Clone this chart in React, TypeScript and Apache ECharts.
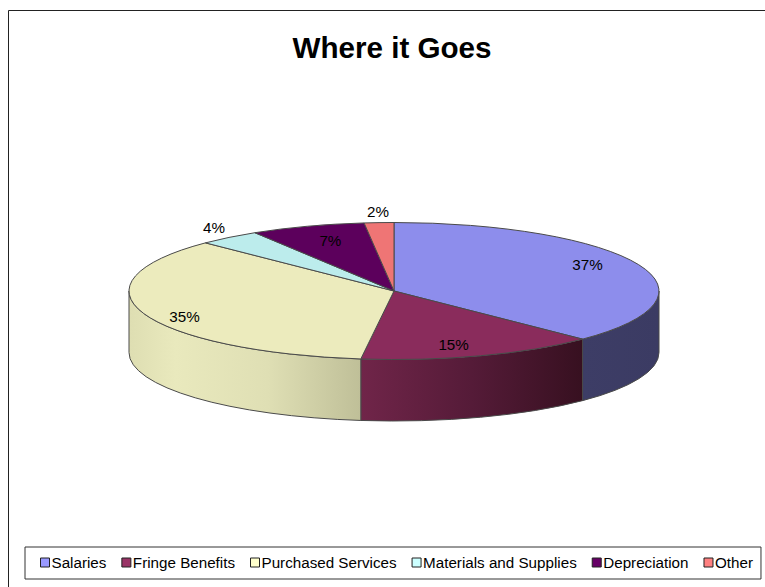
import React, { useEffect, useRef } from "react";
import * as echarts from "echarts";

const titleText = "Where it Goes";
const categories = ["Salaries", "Fringe Benefits", "Purchased Services", "Materials and Supplies", "Depreciation", "Other"];
const shares = [37.4, 14.6, 35.4, 3.8, 7.0, 1.8];

const legendColors = ["#9999ff", "#993366", "#ffffcc", "#ccffff", "#660066", "#ff8080"];
const topColors = ["#8d8dec", "#8a2c5c", "#ecebbd", "#bcecec", "#5c005c", "#ef7575"];
const wallStops: [number, string][][] = [
  [[0, "#3d3d66"], [1, "#3b3b63"]],
  [[0, "#702549"], [0.5, "#551b38"], [1, "#371020"]],
  [[0, "#dedeb2"], [0.2, "#e9e9bd"], [0.6, "#dfdfb4"], [1, "#bfbf98"]],
  [[0, "#bcecec"], [1, "#bcecec"]],
  [[0, "#5c005c"], [1, "#5c005c"]],
  [[0, "#ef7575"], [1, "#ef7575"]],
];
// Pixel nudges of each label from the rim point at its slice's middle angle.
const labelNudges = [[-51, 0], [-27, -11], [41, 3], [-15, -10], [23, 14], [-1, -11]];

const CX = 394;
const CY = 291;
const RX = 265;
const RY = 68.5;
const DEPTH = 61.5;
const EDGE = "#4a4a4a";
const FONT = "'Liberation Sans', Arial, sans-serif";

const pt = (deg: number, dy = 0): [number, number] => {
  const r = (deg * Math.PI) / 180;
  return [CX + RX * Math.sin(r), CY - RY * Math.cos(r) + dy];
};
const f = (n: number) => n.toFixed(2);

const topPath = (a: number, b: number) => {
  const [x0, y0] = pt(a);
  const [x1, y1] = pt(b);
  return `M${CX} ${CY}L${f(x0)} ${f(y0)}A${RX} ${RY} 0 ${b - a > 180 ? 1 : 0} 1 ${f(x1)} ${f(y1)}Z`;
};
const wallPath = (a: number, b: number) => {
  const s = Math.max(a, 90);
  const e = Math.min(b, 270);
  if (e <= s) return null;
  const [x0, y0] = pt(s);
  const [x1, y1] = pt(e);
  const [x2, y2] = pt(e, DEPTH);
  const [x3, y3] = pt(s, DEPTH);
  return `M${f(x0)} ${f(y0)}A${RX} ${RY} 0 0 1 ${f(x1)} ${f(y1)}L${f(x2)} ${f(y2)}A${RX} ${RY} 0 0 0 ${f(x3)} ${f(y3)}Z`;
};

export default function App() {
  const ref = useRef<HTMLDivElement>(null);
  useEffect(() => {
    if (!ref.current) return;
    const chart = echarts.init(ref.current, undefined, { renderer: "svg" });
    const total = shares.reduce((s, v) => s + v, 0);
    let acc = 0;
    const series = categories.map((name, i) => {
      const start = (acc / total) * 360;
      acc += shares[i];
      const end = (acc / total) * 360;
      return {
        type: "custom",
        name,
        coordinateSystem: "none",
        silent: true,
        itemStyle: { color: legendColors[i] },
        data: [{ value: [start, end, shares[i]] }],
        renderItem: (_p: any, api: any) => {
          const a = api.value(0);
          const b = api.value(1);
          const v = api.value(2);
          const children: any[] = [];
          const wall = wallPath(a, b);
          if (wall) {
            children.push({
              type: "path",
              shape: { pathData: wall },
              style: {
                fill: new echarts.graphic.LinearGradient(
                  0, 0, 1, 0,
                  wallStops[i].map(([offset, color]) => ({ offset, color }))
                ),
                stroke: EDGE,
                lineWidth: 1,
              },
            });
          }
          children.push({
            type: "path",
            shape: { pathData: topPath(a, b) },
            style: { fill: topColors[i], stroke: EDGE, lineWidth: 1 },
          });
          const [mx, my] = pt((a + b) / 2);
          children.push({
            type: "text",
            z2: 100,
            x: mx + labelNudges[i][0],
            y: my + labelNudges[i][1],
            style: {
              text: `${Math.round(v)}%`,
              fill: "#000",
              font: `15.2px ${FONT}`,
              align: "center",
              verticalAlign: "middle",
            },
          });
          return { type: "group", children };
        },
      };
    });

    chart.setOption({
      animation: false,
      backgroundColor: "#ffffff",
      title: {
        text: titleText,
        left: 387,
        top: 27,
        textAlign: "center",
        textStyle: { fontFamily: FONT, fontSize: 29.6, fontWeight: "bold", color: "#000" },
      },
      legend: {
        left: 25,
        top: 547,
        padding: [8, 8, 9, 15],
        itemGap: 15,
        itemWidth: 9,
        itemHeight: 9,
        icon: "rect",
        selectedMode: false,
        backgroundColor: "#fff",
        borderColor: "#333",
        borderWidth: 1,
        textStyle: { fontFamily: FONT, fontSize: 15.2, color: "#000", padding: [0, 0, 0, -3] },
        data: categories.map((name, i) => ({
          name,
          itemStyle: { color: legendColors[i], borderColor: "#222", borderWidth: 1 },
        })),
      },
      graphic: [
        {
          type: "rect",
          silent: true,
          z: -1,
          shape: { x: 8.5, y: 10.5, width: 800, height: 620 },
          style: { fill: "#fff", stroke: "#222", lineWidth: 1 },
        },
      ],
      series,
    });
    return () => chart.dispose();
  }, []);
  return <div ref={ref} style={{ position: "fixed", left: 0, top: 0, width: 765, height: 587 }} />;
}
